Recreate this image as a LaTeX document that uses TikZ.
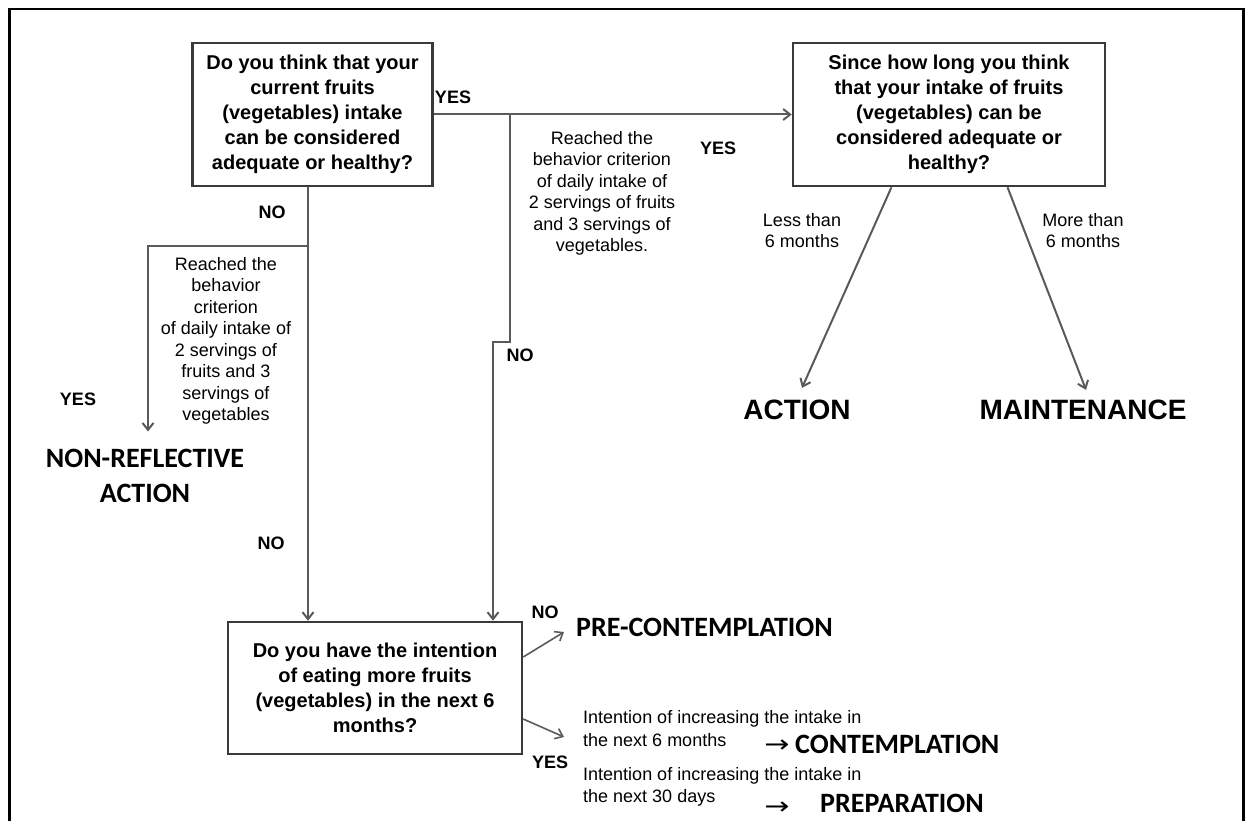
\documentclass[tikz,border=0pt]{standalone}
\usepackage{graphicx}
\usepackage{fontspec}
\setmainfont{Liberation Sans}
\newfontfamily\stagefont{Carlito}
\newfontfamily\symfont{DejaVu Sans}
\usetikzlibrary{arrows.meta,calc}
\definecolor{linegray}{HTML}{5A5A5A}
\definecolor{boxgray}{HTML}{3A3A3A}
\begin{document}
\begin{tikzpicture}[x=1pt,y=-1pt,
  qbox/.style={draw=boxgray,line width=2.5pt,align=center,inner sep=0pt,
    font=\fontsize{20}{25}\selectfont\bfseries},
  conn/.style={draw=linegray,line width=2pt},
  arr/.style={conn,-{Straight Barb[length=7pt,width=11pt]}},
  small/.style={font=\fontsize{18}{21.5}\selectfont,align=center,inner sep=0pt},
  yn/.style={font=\fontsize{18}{20}\selectfont\bfseries,inner sep=0pt},
  stage/.style={font=\fontsize{28}{35}\selectfont\stagefont\bfseries,inner sep=0pt,align=center},
  stageA/.style={font=\fontsize{28}{35}\selectfont\bfseries,inner sep=0pt},
  symarrow/.style={font=\fontsize{24}{24}\selectfont\symfont,inner sep=0pt},
]
\useasboundingbox (0,0) rectangle (1246,821);
% frame
\draw[black,line width=2.5pt] (9.5,821) -- (9.5,9) -- (1243.5,9) -- (1243.5,821);

% question boxes
\node[qbox,minimum width=240pt,minimum height=143pt] (q1) at (312.5,114.5)
  {Do you think that your\\current fruits\\(vegetables) intake\\can be considered\\adequate or healthy?};
\node[qbox,minimum width=312pt,minimum height=143pt] (q2) at (949,114.5)
  {Since how long you think\\that your intake of fruits\\(vegetables) can be\\considered adequate or\\healthy?};
\node[qbox,minimum width=294pt,minimum height=132pt] (q3) at (375,688)
  {Do you have the intention\\of eating more fruits\\(vegetables) in the next 6\\months?};

% outcome labels
\node[stage] (nonref) at (145,475.5) {NON-REFLECTIVE\\ACTION};
\node[stageA] (action) at (797,410) {ACTION};
\node[stageA] (maint) at (1083,410) {MAINTENANCE};
\node[stage,anchor=west] (pre) at (576,627) {PRE-CONTEMPLATION};
\node[symarrow] (ar1) at (777,746) {\scalebox{1.25}[1]{→}};
\node[stage,anchor=west] (cont) at (795,744) {CONTEMPLATION};
\node[symarrow] (ar2) at (777,808) {\scalebox{1.25}[1]{→}};
\node[stage,anchor=west] (prep) at (820,803) {PREPARATION};

% small texts
\node[small] (crit1) at (226,341) {Reached the\\behavior\\criterion\\of daily intake of\\2 servings of\\fruits and 3\\servings of\\vegetables};
\node[small] (crit2) at (602,193.5) {Reached the\\behavior criterion\\of daily intake of\\2 servings of fruits\\and 3 servings of\\vegetables.};
\node[small,font=\fontsize{18}{21}\selectfont] (less) at (802,230.5) {Less than\\6 months};
\node[small,font=\fontsize{18}{21}\selectfont] (more) at (1083,230.5) {More than\\6 months};
\node[small,align=left,anchor=west,font=\fontsize{18}{22.5}\selectfont] (int1) at (583,728.5) {Intention of increasing the intake in\\the next 6 months};
\node[small,align=left,anchor=west,font=\fontsize{18}{22.5}\selectfont] (int2) at (583,787) {Intention of increasing the intake in\\the next 30 days};

% yes / no labels
\node[yn] (yes1) at (453,97) {YES};
\node[yn] (no1) at (272,212) {NO};
\node[yn] (yes2) at (78,399) {YES};
\node[yn] (no2) at (271,543) {NO};
\node[yn] (yes3) at (718,148) {YES};
\node[yn] (no3) at (520,355) {NO};
\node[yn] (no4) at (545,612) {NO};
\node[yn] (yes4) at (550,762) {YES};

% connectors
\draw[arr] (q1.east) -- (q2.west);
\coordinate (j1) at (510,114.5);
\coordinate (j2) at (510,342);
\coordinate (j3) at (493,342);
\draw[arr] (j1) -- (j2) -- (j3) -- (j3 |- q3.north);
\coordinate (k1) at (308,246);
\coordinate (k2) at (148,246);
\draw[conn] (k1 |- q1.south) -- (k1);
\draw[arr] (k1) -- (k1 |- q3.north);
\draw[arr,shorten >=17pt] (k1) -- (k2) -- (k2 |- nonref.north);
\draw[arr] ($(q2.south west)!0.317!(q2.south east)$) -- ([xshift=5pt,yshift=12pt]action.north);
\draw[arr] ($(q2.south west)!0.686!(q2.south east)$) -- ([xshift=3pt,yshift=10pt]maint.north);
\draw[arr,line width=1.6pt] ([yshift=31pt]q3.east) -- ([xshift=-12pt,yshift=-5pt]pre.west);
\draw[arr,line width=1.6pt] ([yshift=-31pt]q3.east) -- ([xshift=-19pt,yshift=-8.5pt]int1.west);
\end{tikzpicture}
\end{document}
